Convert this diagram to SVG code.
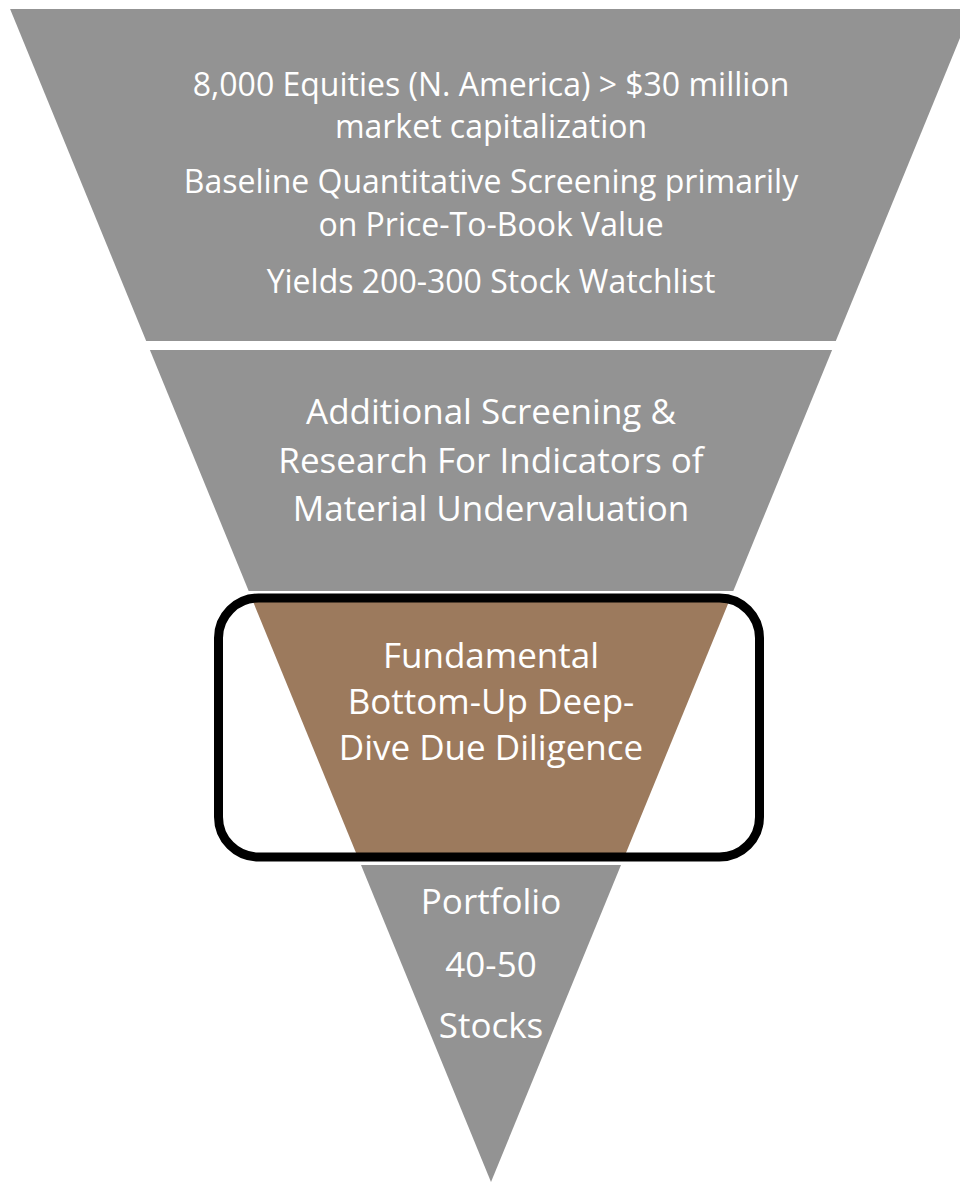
<svg xmlns="http://www.w3.org/2000/svg" width="960" height="1182" viewBox="0 0 960 1182">
  <style>
    .seg { fill: #939393; }
    .focus { fill: #9C7A5D; }
    .t { font-family: "Open Sans", "Noto Sans", "DejaVu Sans", sans-serif; fill: #ffffff; text-anchor: middle; }
    .s1 { font-size: 32px; }
    .s2 { font-size: 35px; }
    .hl { fill: none; stroke: #000000; stroke-width: 9; }
  </style>
  <rect x="0" y="0" width="960" height="1182" fill="#ffffff"/>
  <g id="stage1">
    <polygon class="seg" points="10.1,9 971.9,9 835.8,341 146.2,341"/>
    <text class="t s1" x="491" y="96">8,000 Equities (N. America) &gt; $30 million</text>
    <text class="t s1" x="491" y="138">market capitalization</text>
    <text class="t s1" x="491" y="193">Baseline Quantitative Screening primarily</text>
    <text class="t s1" x="491" y="236">on Price-To-Book Value</text>
    <text class="t s1" x="491" y="293">Yields 200-300 Stock Watchlist</text>
  </g>
  <g id="stage2">
    <polygon class="seg" points="149.9,350 832.1,350 733.3,591 248.7,591"/>
    <text class="t s2" x="491" y="424">Additional Screening &amp;</text>
    <text class="t s2" x="491" y="473">Research For Indicators of</text>
    <text class="t s2" x="491" y="521">Material Undervaluation</text>
  </g>
  <g id="stage3">
    <polygon class="focus" points="252.4,600 729.6,600 624.7,856 357.3,856"/>
    <text class="t s2" x="491" y="668">Fundamental</text>
    <text class="t s2" x="491" y="714">Bottom-Up Deep-</text>
    <text class="t s2" x="491" y="760">Dive Due Diligence</text>
  </g>
  <g id="highlight">
    <rect class="hl" x="218.5" y="598" width="541" height="259" rx="40" ry="40"/>
  </g>
  <g id="stage4">
    <polygon class="seg" points="361,865 621,865 491,1182"/>
    <text class="t s2" x="491" y="914">Portfolio</text>
    <text class="t s2" x="491" y="977">40-50</text>
    <text class="t s2" x="491" y="1038">Stocks</text>
  </g>
</svg>
